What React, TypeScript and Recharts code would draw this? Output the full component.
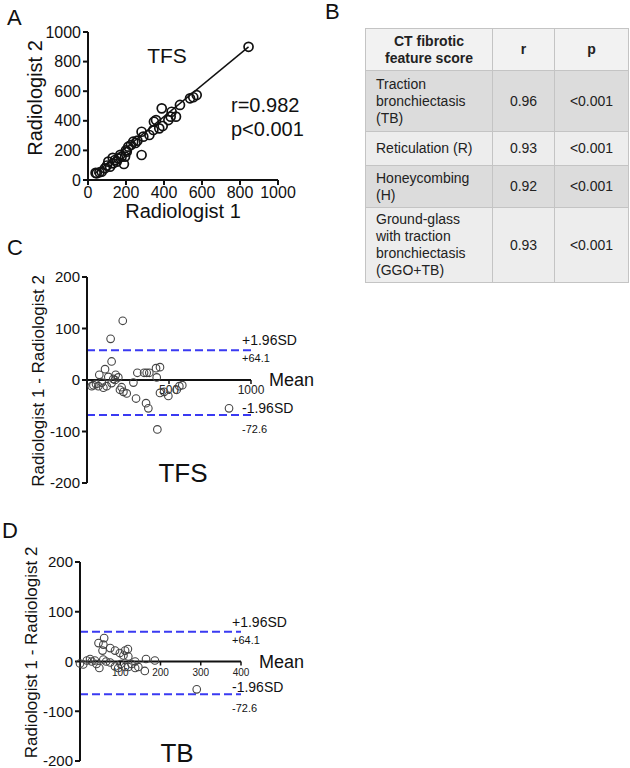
import React from 'react';
import { ScatterChart, Scatter, XAxis, YAxis, ReferenceLine, ReferenceDot } from 'recharts';

const FONT = '"Liberation Sans", Arial, Helvetica, sans-serif';

// A: TFS scored by the two radiologists
const tfsScores = [
  { x: 40, y: 48 }, { x: 46, y: 45 }, { x: 60, y: 52 }, { x: 72, y: 56 }, { x: 89, y: 79 },
  { x: 100, y: 98 }, { x: 107, y: 124 }, { x: 116, y: 90 }, { x: 130, y: 150 }, { x: 133, y: 113 },
  { x: 142, y: 135 }, { x: 151, y: 124 }, { x: 160, y: 146 }, { x: 170, y: 170 }, { x: 177, y: 158 },
  { x: 189, y: 108 }, { x: 195, y: 158 }, { x: 200, y: 200 }, { x: 204, y: 191 }, { x: 212, y: 225 },
  { x: 226, y: 236 }, { x: 238, y: 259 }, { x: 250, y: 250 }, { x: 260, y: 266 }, { x: 282, y: 169 },
  { x: 282, y: 326 }, { x: 291, y: 293 }, { x: 323, y: 304 }, { x: 344, y: 338 }, { x: 347, y: 394 },
  { x: 358, y: 405 }, { x: 375, y: 349 }, { x: 388, y: 484 }, { x: 393, y: 365 }, { x: 423, y: 405 },
  { x: 435, y: 428 }, { x: 440, y: 461 }, { x: 463, y: 428 }, { x: 484, y: 507 }, { x: 537, y: 552 },
  { x: 554, y: 559 }, { x: 572, y: 574 }, { x: 845, y: 900 },
];
const tfsFit = [{ x: 35, y: 42 }, { x: 845, y: 900 }];
const scoreTicks = [0, 200, 400, 600, 800, 1000];

// C: Bland-Altman, TFS
const tfsDiff = [
  { x: 218, y: 115 }, { x: 144, y: 80 }, { x: 150, y: 36 }, { x: 110, y: 21 }, { x: 75, y: 10 },
  { x: 130, y: 6 }, { x: 175, y: 10 }, { x: 191, y: 5 }, { x: 39, y: -10 }, { x: 29, y: -12 },
  { x: 55, y: -8 }, { x: 69, y: -12 }, { x: 90, y: -5 }, { x: 100, y: -15 }, { x: 120, y: -12 },
  { x: 150, y: -6 }, { x: 160, y: 2 }, { x: 171, y: 0 }, { x: 211, y: -14 }, { x: 201, y: -19 },
  { x: 222, y: -23 }, { x: 242, y: -26 }, { x: 283, y: -5 }, { x: 299, y: -36 }, { x: 307, y: 14 },
  { x: 348, y: 14 }, { x: 364, y: 14 }, { x: 380, y: 14 }, { x: 421, y: 23 }, { x: 445, y: 25 },
  { x: 425, y: 5 }, { x: 360, y: -45 }, { x: 374, y: -55 }, { x: 429, y: -96 }, { x: 445, y: -25 },
  { x: 470, y: -23 }, { x: 496, y: -31 }, { x: 547, y: -19 }, { x: 563, y: -12 }, { x: 581, y: -10 },
  { x: 866, y: -55 },
];
const tfsMeanTicks = [500, 1000];
const tfsUpper = 58;
const tfsLower = -68;

// D: Bland-Altman, TB
const tbDiff = [
  { x: 60, y: 47 }, { x: 46, y: 37 }, { x: 58, y: 34 }, { x: 56, y: 22 }, { x: 75, y: 27 },
  { x: 87, y: 22 }, { x: 99, y: 17 }, { x: 112, y: 22 }, { x: 119, y: 25 }, { x: 120, y: 10 },
  { x: 108, y: 12 }, { x: 164, y: 5 }, { x: 186, y: 2 }, { x: 0, y: -4 }, { x: 8, y: -6 },
  { x: 17, y: 2 }, { x: 25, y: 5 }, { x: 29, y: 0 }, { x: 37, y: 2 }, { x: 41, y: -5 },
  { x: 48, y: -13 }, { x: 58, y: 4 }, { x: 65, y: 0 }, { x: 75, y: -2 }, { x: 87, y: -10 },
  { x: 95, y: -13 }, { x: 101, y: -5 }, { x: 112, y: -11 }, { x: 120, y: -11 }, { x: 128, y: -5 },
  { x: 137, y: 0 }, { x: 137, y: -13 }, { x: 145, y: -11 }, { x: 161, y: -19 }, { x: 290, y: -56 },
];
const tbMeanTicks = [100, 200, 300, 400];
const tbUpper = 60;
const tbLower = -66;

const diffTicks = [-200, -100, 0, 100, 200];

// B: agreement table
const tableHead = [['CT fibrotic', 'feature score'], ['r'], ['p']];
const featureNames = [
  ['Traction', 'bronchiectasis', '(TB)'],
  ['Reticulation (R)'],
  ['Honeycombing', '(H)'],
  ['Ground-glass', 'with traction', 'bronchiectasis', '(GGO+TB)'],
];
const featureR = ['0.96', '0.93', '0.92', '0.93'];
const featureP = ['<0.001', '<0.001', '<0.001', '<0.001'];

const openCircle = (r: number, color: string, sw: number) => (props: any) => (
  <circle cx={props.cx} cy={props.cy} r={r} fill="none" stroke={color} strokeWidth={sw} />
);

const yTitle = (text: string, dx: number, dy: number, size: number) => (props: any) => {
  const vb = props.viewBox || { x: 0, y: 0, width: 0, height: 0 };
  const x = vb.x + dx;
  const y = vb.y + vb.height / 2 + dy;
  return (
    <text x={x} y={y} transform={`rotate(-90 ${x} ${y})`} textAnchor="middle" dominantBaseline="central"
      fontSize={size} fontFamily={FONT} fill="#111">{text}</text>
  );
};

const xTitle = (text: string, dy: number, size: number) => (props: any) => {
  const vb = props.viewBox || { x: 0, y: 0, width: 0, height: 0 };
  return (
    <text x={vb.x + vb.width / 2} y={vb.y + dy} textAnchor="middle" fontSize={size} fontFamily={FONT} fill="#111">{text}</text>
  );
};

function BlandAltman({ data, xMax, meanTicks, tickFont, upper, lower, chartH, margin, titleDy }: any) {
  return (
    <ScatterChart width={320} height={chartH} margin={margin}>
      <XAxis type="number" dataKey="x" domain={[0, xMax]} hide height={0} />
      <YAxis type="number" dataKey="y" domain={[-200, 200]} ticks={diffTicks} width={60} interval={0}
        stroke="#111" strokeWidth={2} tickSize={5} tickMargin={2}
        tick={{ fontSize: 15, fill: '#111', fontFamily: FONT }}
        label={{ content: yTitle('Radiologist 1 - Radiologist 2', 11, titleDy, 17) }} />
      <ReferenceLine y={0} stroke="#111" strokeWidth={2} />
      {meanTicks.map((t: number) => (
        <ReferenceDot key={t} x={t} y={0} shape={(p: any) => (
          <g>
            <line x1={p.cx} y1={p.cy} x2={p.cx} y2={p.cy + 4} stroke="#111" strokeWidth={1.5} />
            <text x={p.cx} y={p.cy + 14} textAnchor="middle" fontSize={tickFont} fontFamily={FONT} fill="#222">{t}</text>
          </g>
        )} />
      ))}
      <ReferenceLine segment={[{ x: 0, y: upper }, { x: xMax, y: upper }]} stroke="#3a3af2" strokeWidth={2}
        strokeDasharray="8 4" ifOverflow="visible" />
      <ReferenceLine segment={[{ x: 0, y: lower }, { x: xMax, y: lower }]} stroke="#3a3af2" strokeWidth={2}
        strokeDasharray="8 4" ifOverflow="visible" />
      <Scatter data={data} isAnimationActive={false} shape={openCircle(3.8, '#444', 1.1)} />
      <ReferenceDot x={xMax} y={0} shape={(p: any) => (
        <text x={p.cx + 18} y={p.cy} dominantBaseline="central" fontSize={18} fontFamily={FONT} fill="#111">Mean</text>
      )} />
      <ReferenceDot x={xMax} y={upper} shape={(p: any) => (
        <g fontFamily={FONT} fill="#111">
          <text x={p.cx - 9} y={p.cy - 5} fontSize={14}>+1.96SD</text>
          <text x={p.cx - 9} y={p.cy + 12} fontSize={11}>+64.1</text>
        </g>
      )} />
      <ReferenceDot x={xMax} y={lower} shape={(p: any) => (
        <g fontFamily={FONT} fill="#111">
          <text x={p.cx - 9} y={p.cy - 2} fontSize={14}>-1.96SD</text>
          <text x={p.cx - 9} y={p.cy + 18} fontSize={11}>-72.6</text>
        </g>
      )} />
    </ScatterChart>
  );
}

const rowHeights = [42, 61, 34, 42, 75];
const colWidths = [127, 62, 74];
const rowBg = ['#f2f2f2', '#dcdcdc', '#ededed', '#dcdcdc', '#ededed'];

function FeatureTable() {
  const cell = (row: number, col: number, lines: string[], bold = false) => (
    <td key={col} style={{
      width: colWidths[col], height: rowHeights[row], padding: col === 0 && row > 0 ? '0 0 0 10px' : 0,
      textAlign: col === 0 && row > 0 ? 'left' : 'center', verticalAlign: 'middle',
      border: '1px solid #c4c4c4', background: rowBg[row], fontWeight: bold ? 'bold' : 'normal',
      boxSizing: 'border-box',
    }}>
      {lines.map((l, i) => <div key={i}>{l}</div>)}
    </td>
  );
  return (
    <table style={{
      position: 'absolute', left: 365, top: 28, width: 263, borderCollapse: 'collapse', tableLayout: 'fixed',
      fontFamily: FONT, fontSize: 14, lineHeight: '17px', color: '#222', border: '1px solid #a8a8a8',
    }}>
      <tbody>
        <tr>{tableHead.map((h, c) => cell(0, c, h, true))}</tr>
        {featureNames.map((n, i) => (
          <tr key={i}>
            {cell(i + 1, 0, n)}
            {cell(i + 1, 1, [featureR[i]])}
            {cell(i + 1, 2, [featureP[i]])}
          </tr>
        ))}
      </tbody>
    </table>
  );
}

export default function App() {
  return (
    <div style={{ position: 'absolute', left: 0, top: 0, width: 630, height: 768, background: '#fff', fontFamily: FONT }}>
      <div style={{ position: 'absolute', left: 0, top: 0 }}>
        <ScatterChart width={320} height={230} margin={{ top: 32, right: 42, bottom: 7, left: 28 }}>
          <XAxis type="number" dataKey="x" domain={[0, 1000]} ticks={scoreTicks} height={43} interval={0}
            stroke="#111" strokeWidth={2} tickSize={5} tickMargin={2}
            tick={{ fontSize: 16, fill: '#111', fontFamily: FONT }}
            label={{ content: xTitle('Radiologist 1', 38, 20) }} />
          <YAxis type="number" dataKey="y" domain={[0, 1000]} ticks={scoreTicks} width={60} interval={0}
            stroke="#111" strokeWidth={2} tickSize={5} tickMargin={2}
            tick={{ fontSize: 16, fill: '#111', fontFamily: FONT }}
            label={{ content: yTitle('Radiologist 2', 7, -8, 20) }} />
          <ReferenceLine segment={tfsFit} stroke="#111" strokeWidth={1.5} ifOverflow="visible" />
          <Scatter data={tfsScores} isAnimationActive={false} shape={openCircle(4.5, '#111', 1.7)} />
        </ScatterChart>
      </div>

      <div style={{ position: 'absolute', left: 0, top: 250 }}>
        <BlandAltman data={tfsDiff} xMax={1000} meanTicks={tfsMeanTicks} tickFont={12}
          upper={tfsUpper} lower={tfsLower} chartH={250} titleDy={1}
          margin={{ top: 27, right: 69, bottom: 17, left: 27 }} />
      </div>

      <div style={{ position: 'absolute', left: 0, top: 530 }}>
        <BlandAltman data={tbDiff} xMax={400} meanTicks={tbMeanTicks} tickFont={10}
          upper={tbUpper} lower={tbLower} chartH={238} titleDy={-9}
          margin={{ top: 32, right: 79, bottom: 7, left: 20 }} />
      </div>

      <FeatureTable />

      <svg width={630} height={768} style={{ position: 'absolute', left: 0, top: 0, pointerEvents: 'none' }}
        fontFamily={FONT} fill="#111">
        <text x={7} y={25} fontSize={22}>A</text>
        <text x={325} y={19} fontSize={22}>B</text>
        <text x={7} y={255} fontSize={22}>C</text>
        <text x={2} y={538} fontSize={22}>D</text>
        <text x={167} y={63} fontSize={21} textAnchor="middle">TFS</text>
        <text x={231} y={112} fontSize={20}>r=0.982</text>
        <text x={231} y={136} fontSize={20}>p&lt;0.001</text>
        <text x={183} y={482} fontSize={26} textAnchor="middle">TFS</text>
        <text x={177} y={762} fontSize={26} textAnchor="middle">TB</text>
      </svg>
    </div>
  );
}
